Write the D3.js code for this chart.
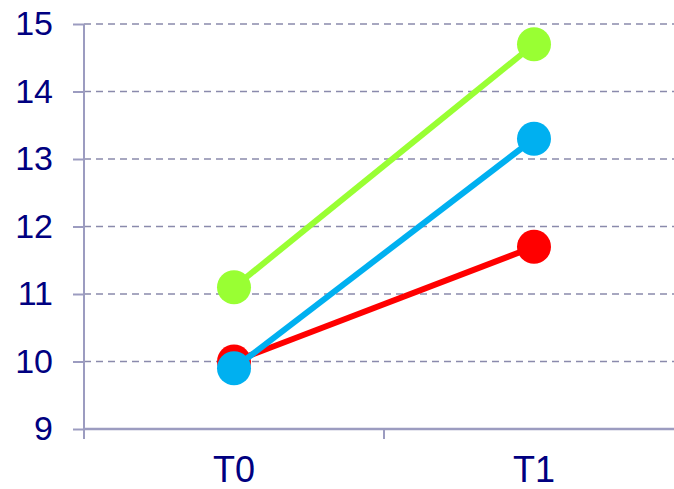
<!DOCTYPE html>
<html>
<head>
<meta charset="utf-8">
<script src="https://cdn.jsdelivr.net/npm/d3@7"></script>
<style>
  html, body { margin: 0; padding: 0; background: #ffffff; }
  svg { display: block; }
  text { font-family: "Liberation Sans", Arial, sans-serif; fill: #000080; }
</style>
</head>
<body>
<svg id="chart" width="674" height="489"></svg>
<script>
// Time points and measured values per group
const categories = ["T0", "T1"];
const greenValues = [11.1, 14.7];
const redValues = [10.0, 11.7];
const blueValues = [9.9, 13.3];
const yTicks = [9, 10, 11, 12, 13, 14, 15];

const series = [
  { name: "green", color: "#99ff33", values: greenValues },
  { name: "red", color: "#ff0000", values: redValues },
  { name: "blue", color: "#00b0f0", values: blueValues }
];

const svg = d3.select("#chart");
const axisColor = "#9c9cc0";
const gridColor = "#8a8aac";

const y = d3.scaleLinear().domain([9, 15]).range([429, 24]);
const x = d3.scaleBand().domain(categories).range([84, 684]);
const left = 84, right = 674, bottom = 429;

// Dashed horizontal gridlines
svg.append("g")
  .selectAll("line")
  .data(yTicks.filter(t => t > 9))
  .join("line")
  .attr("x1", left).attr("x2", right)
  .attr("y1", d => y(d)).attr("y2", d => y(d))
  .attr("stroke", gridColor)
  .attr("stroke-width", 1.5)
  .attr("stroke-dasharray", "7,5");

// Y axis
const yAxis = svg.append("g")
  .attr("transform", `translate(${left},0)`)
  .call(d3.axisLeft(y).tickValues(yTicks).tickSize(11).tickPadding(20).tickFormat(d3.format("d")));
yAxis.select(".domain").remove();
yAxis.selectAll(".tick line").attr("stroke", axisColor).attr("stroke-width", 2);
yAxis.selectAll(".tick text")
  .style("font-size", "34px")
  .attr("fill", "#000080")
  .attr("dy", "0.32em");
svg.append("line")
  .attr("x1", left).attr("x2", left)
  .attr("y1", y(15)).attr("y2", bottom + 10)
  .attr("stroke", axisColor).attr("stroke-width", 2);

// X axis
svg.append("line")
  .attr("x1", left).attr("x2", right)
  .attr("y1", bottom).attr("y2", bottom)
  .attr("stroke", axisColor).attr("stroke-width", 2.5);
svg.append("g")
  .selectAll("line")
  .data(categories.slice(0, -1))
  .join("line")
  .attr("x1", d => x(d) + x.bandwidth()).attr("x2", d => x(d) + x.bandwidth())
  .attr("y1", bottom).attr("y2", bottom + 10)
  .attr("stroke", axisColor).attr("stroke-width", 2);
const xAxis = svg.append("g")
  .attr("transform", `translate(0,${bottom})`)
  .call(d3.axisBottom(x).tickSize(0).tickPadding(27));
xAxis.select(".domain").remove();
xAxis.selectAll(".tick text")
  .style("font-size", "36px")
  .attr("fill", "#000080");

// Lines and markers for each group
const line = d3.line()
  .x((d, i) => x(categories[i]) + x.bandwidth() / 2)
  .y(d => y(d));

series.forEach(s => {
  const g = svg.append("g");
  g.append("path")
    .attr("d", line(s.values))
    .attr("fill", "none")
    .attr("stroke", s.color)
    .attr("stroke-width", 6);
  g.selectAll("circle")
    .data(s.values)
    .join("circle")
    .attr("cx", (d, i) => x(categories[i]) + x.bandwidth() / 2)
    .attr("cy", d => y(d))
    .attr("r", 17)
    .attr("fill", s.color);
});
</script>
</body>
</html>
